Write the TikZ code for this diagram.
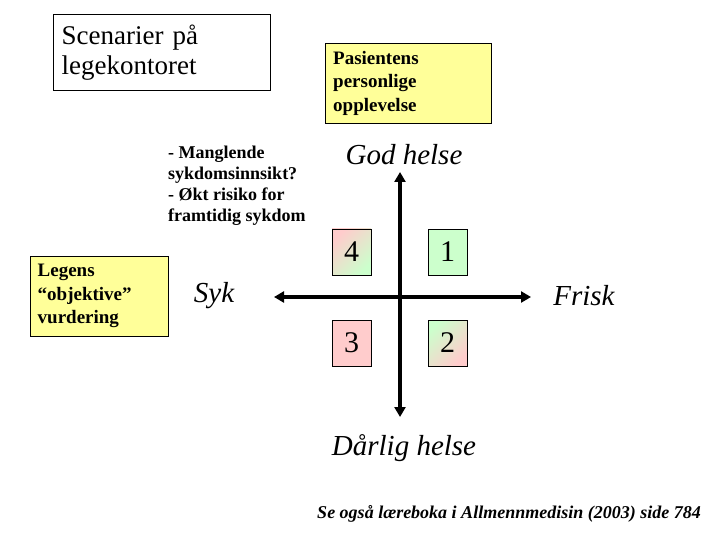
\documentclass[tikz,border=0pt]{standalone}
\usepackage{fontspec}
\setmainfont{Liberation Serif}
\usetikzlibrary{arrows.meta}
\definecolor{paleyellow}{HTML}{FFFF99}
\definecolor{palegreen}{HTML}{CCFFCC}
\definecolor{palepink}{HTML}{FFCCCC}
\tikzset{
  ybox/.style={draw, fill=paleyellow, anchor=north west, align=left, inner xsep=7pt,
    font=\fontsize{19}{23.5}\selectfont\bfseries},
  axislab/.style={font=\fontsize{29}{32}\selectfont\itshape},
  qbox/.style={draw, line width=0.8pt, minimum width=39pt, minimum height=46pt, inner sep=0pt,
    font=\fontsize{30}{34}\selectfont},
  axisarrow/.style={line width=4pt, {Triangle[width=11pt,length=10pt]}-{Triangle[width=11pt,length=10pt]}}
}
\begin{document}
\begin{tikzpicture}[x=1pt,y=-1pt]
\useasboundingbox (0,0) rectangle (720,540);
% title box
\node[draw, anchor=north west, minimum width=217pt, minimum height=76pt, text width=200pt,
  align=left, inner xsep=8pt, font=\fontsize{27}{30}\selectfont] (title) at (53,14)
  {Scenarier på\\legekontoret};
% patient box
\node[ybox, minimum width=166pt, minimum height=80pt, text width=150pt] (pas) at (325,43)
  {Pasientens\\personlige\\opplevelse};
% doctor box
\node[ybox, minimum width=138pt, minimum height=80pt, text width=123pt] (leg) at (30,256)
  {Legens\\“objektive”\\vurdering};
% note
\node[anchor=north west, align=left, inner sep=0pt, font=\fontsize{18}{21}\selectfont\bfseries] (note) at (168,146)
  {- Manglende\\sykdomsinnsikt?\\- Økt risiko for\\framtidig sykdom};
% axes
\coordinate (top) at (400,172);
\coordinate (bot) at (400,417);
\coordinate (lft) at (274,297);
\coordinate (rgt) at (531,297);
\draw[axisarrow] (top) -- (bot);
\draw[axisarrow] (lft) -- (rgt);
% axis labels
\node[axislab] (god) at (404,155) {God helse};
\node[axislab] (darlig) at (404,448) {Dårlig helse};
\node[axislab] (syk) at (214,296) {Syk};
\node[axislab] (frisk) at (584,296) {Frisk};
% quadrant boxes
\node[qbox, top color=palepink, bottom color=palegreen, shading angle=45] (q4) at (351.5,252) {4};
\node[qbox, fill=palegreen] (q1) at (447.5,252) {1};
\node[qbox, fill=palepink] (q3) at (351.5,343) {3};
\node[qbox, top color=palegreen, bottom color=palepink, shading angle=45] (q2) at (447.5,343) {2};
% footer
\node[font=\fontsize{18}{20}\selectfont\bfseries\itshape] (foot) at (509,514)
  {Se også læreboka i Allmennmedisin (2003) side 784};
\end{tikzpicture}
\end{document}
